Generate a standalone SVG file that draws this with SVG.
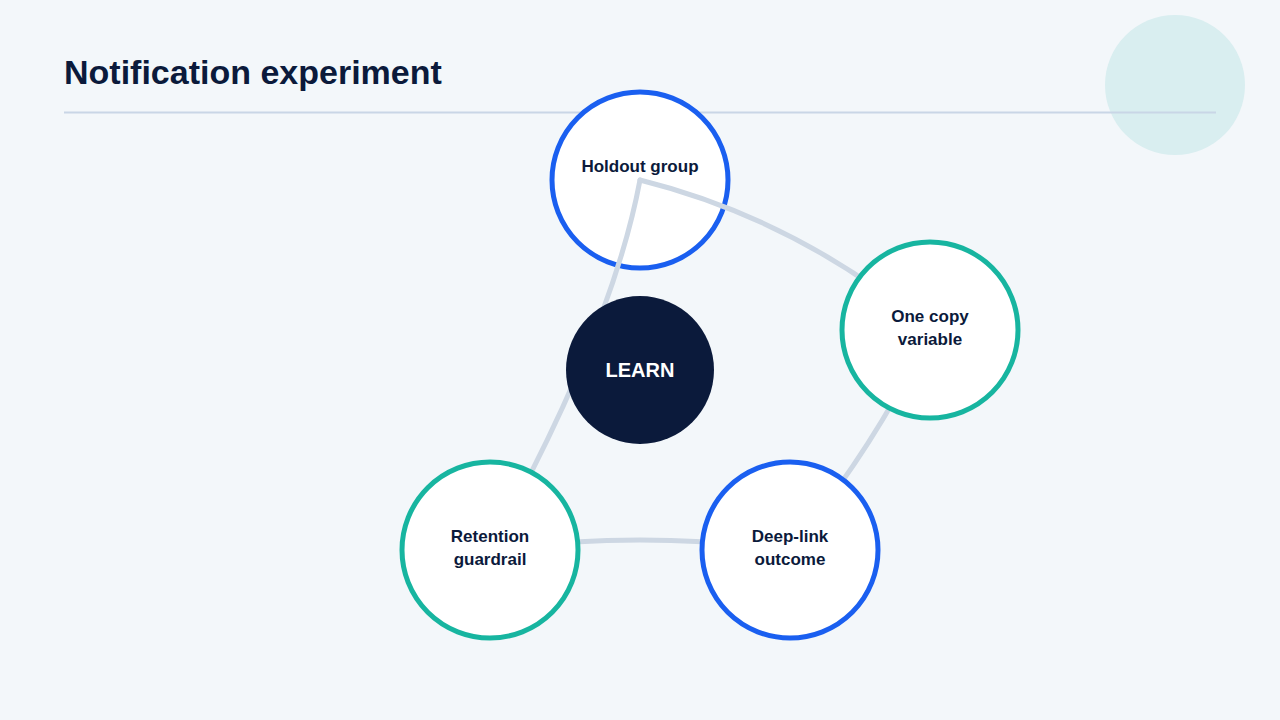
<svg xmlns="http://www.w3.org/2000/svg" width="1280" height="720" viewBox="0 0 1280 720">
<style>
.lbl{font-family:"Liberation Sans",Arial,sans-serif;font-weight:bold;font-size:17px;fill:#0b1a3b;text-anchor:middle}
.node{fill:#fff;stroke-width:5}
.blue{stroke:#1a5ff0}.teal{stroke:#17b5a0}
.conn{fill:none;stroke:#cdd7e3;stroke-width:5;stroke-linecap:round}
</style>
<rect width="1280" height="720" fill="#f3f7fa"/>
<circle cx="1175" cy="85" r="70" fill="#d9eef0"/>
<text x="64" y="84" font-family="Liberation Sans,Arial,sans-serif" font-weight="bold" font-size="34" fill="#0b1a3b">Notification experiment</text>
<line x1="64" y1="112.5" x2="1216" y2="112.5" stroke="#c9d6e6" stroke-width="2"/>
<g id="n-holdout"><circle class="node blue" cx="640" cy="180" r="88"/><text class="lbl" x="640" y="172">Holdout group</text></g>
<g id="connectors">
<path class="conn" d="M640,180 Q612,330 490,550"/>
<path class="conn" d="M640,180 Q800,220 930,330"/>
<path class="conn" d="M930,330 Q880,440 790,550"/>
<path class="conn" d="M490,550 Q640,530 790,550"/>
</g>
<g id="n-learn"><circle cx="640" cy="370" r="74" fill="#0b1a3b"/><text class="lbl" x="640" y="377" style="fill:#fff;font-size:20px">LEARN</text></g>
<g id="n-copy"><circle class="node teal" cx="930" cy="330" r="88"/><text class="lbl" x="930" y="322">One copy</text><text class="lbl" x="930" y="345">variable</text></g>
<g id="n-deeplink"><circle class="node blue" cx="790" cy="550" r="88"/><text class="lbl" x="790" y="542">Deep-link</text><text class="lbl" x="790" y="565">outcome</text></g>
<g id="n-retention"><circle class="node teal" cx="490" cy="550" r="88"/><text class="lbl" x="490" y="542">Retention</text><text class="lbl" x="490" y="565">guardrail</text></g>
</svg>
